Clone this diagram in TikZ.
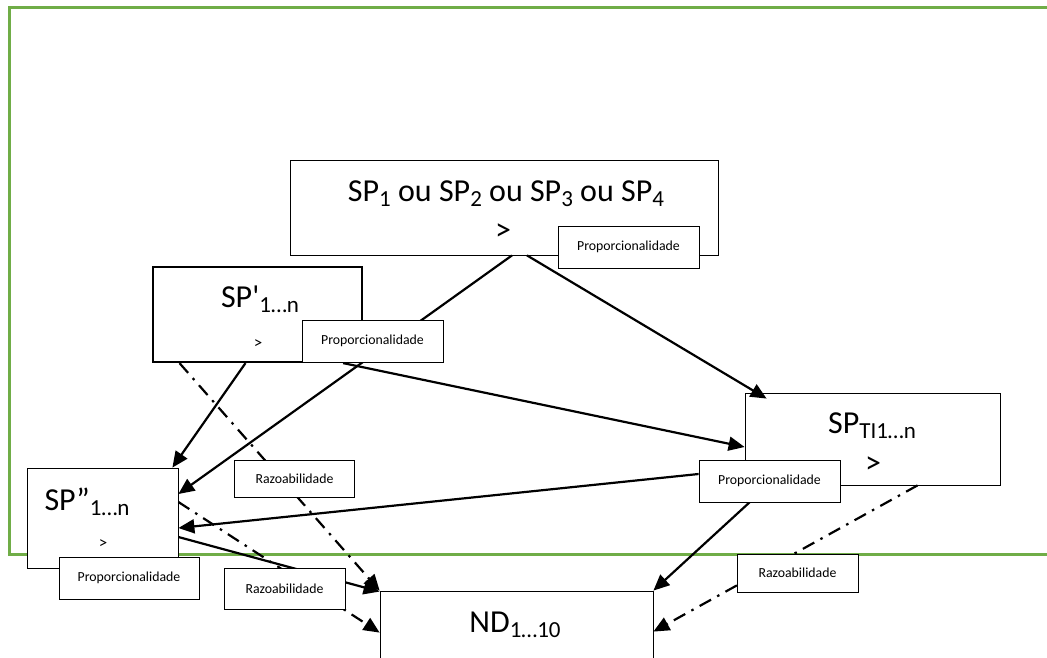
\documentclass[tikz,border=0pt]{standalone}
\usepackage{fontspec}
\setmainfont{Carlito}[Ligatures=TeXOff]
\usetikzlibrary{arrows.meta}
\definecolor{frame}{HTML}{70AD47}
\newcommand{\idx}[1]{\raisebox{-0.16em}{\fontsize{23}{23}\selectfont #1}}
\pgfdeclarelayer{front}
\pgfsetlayers{main,front}

\begin{document}
\begin{tikzpicture}[x=1pt,y=-1pt,
  box/.style={draw,fill=white,line width=0.8pt,inner sep=0pt},
  tag/.style={draw,fill=white,line width=0.8pt,inner sep=0pt,minimum height=42,font=\fontsize{13.8}{14}\selectfont},
  big/.style={font=\fontsize{32}{33}\selectfont,inner sep=0pt},
  small/.style={font=\fontsize{17}{18}\selectfont,inner sep=0pt},
  link/.style={line width=2.2pt,-{Triangle[length=16pt,width=14pt]}},
  dotlink/.style={link,dash pattern=on 13pt off 7pt on 2.5pt off 7pt}]
\path[use as bounding box,clip] (0,0) rectangle (1047,658);
\draw[frame,line width=3pt] (9,8) rectangle (1080,554);

% boxes
\node[box,minimum width=428,minimum height=95] (sp) at (504,207.5) {};
\node[big,anchor=base] (sptxt) at (506,201) {SP\idx{1} ou SP\idx{2} ou SP\idx{3} ou SP\idx{4}};
\node[big] (spgt) at (503,232) {>};
\node[box,line width=2.2pt,minimum width=209,minimum height=95] (spa) at (257.5,314.5) {};
\node[big,anchor=base] (spatxt) at (260,307) {SP'\idx{1…n}};
\node[small] (spagt) at (258,344) {>};
\node[box,minimum width=255,minimum height=92] (spti) at (872.5,439) {};
\node[big,anchor=base] (sptitxt) at (872,433) {SP\idx{TI1…n}};
\node[big] (sptigt) at (873,465) {>};
\node[box,minimum width=151,minimum height=100] (spb) at (102.5,518) {};
\node[big,anchor=base] (spbtxt) at (87,510) {SP”\idx{1…n}};
\node[small] (spbgt) at (103,544) {>};
\node[box,minimum width=273,minimum height=100] (nd) at (516.5,641) {};
\node[big,anchor=base] (ndtxt) at (515,632) {ND\idx{1…10}};

% labels on top
\begin{pgfonlayer}{front}
\node[tag,minimum width=141] (prop1) at (628.5,247) {Proporcionalidade};
\node[tag,minimum width=141] (prop2) at (372.5,341) {Proporcionalidade};
\node[tag,minimum width=141] (prop3) at (769.5,481) {Proporcionalidade};
\node[tag,minimum width=140] (prop4) at (129,578) {Proporcionalidade};
\node[tag,minimum width=120,minimum height=37] (raz1) at (294.5,479) {Razoabilidade};
\node[tag,minimum width=121,minimum height=41] (raz2) at (284.5,588.5) {Razoabilidade};
\node[tag,minimum width=121,minimum height=38] (raz3) at (797.5,573) {Razoabilidade};
\end{pgfonlayer}

% arrows
\draw[link] ([xshift=8pt]sp.south) -- ([yshift=24pt]spb.east);
\draw[link] ([xshift=23pt]sp.south) -- ([xshift=22pt,yshift=-6pt]spti.north west);
\draw[link] ([xshift=-12pt]spa.south) -- ([xshift=-6pt]spb.north east);
\draw[link] ([xshift=-20pt]spa.south east) -- ([yshift=-8pt]spti.west);
\draw[link] ([yshift=7pt]prop3.west) -- ([yshift=-10pt]spb.east);
\draw[link] ([yshift=-19pt]spb.east) -- ([yshift=-1pt]nd.north west);
\draw[link] ([xshift=-20pt]prop3.south) -- (nd.north east);
\draw[dotlink] ([xshift=-78pt]spa.south) -- (nd.north west);
\draw[dotlink] ([yshift=16pt]spb.east) -- ([yshift=-42pt]nd.north west);
\draw[dotlink] ([xshift=45pt]spti.south) -- ([yshift=-41pt]nd.north east);
\end{tikzpicture}
\end{document}
